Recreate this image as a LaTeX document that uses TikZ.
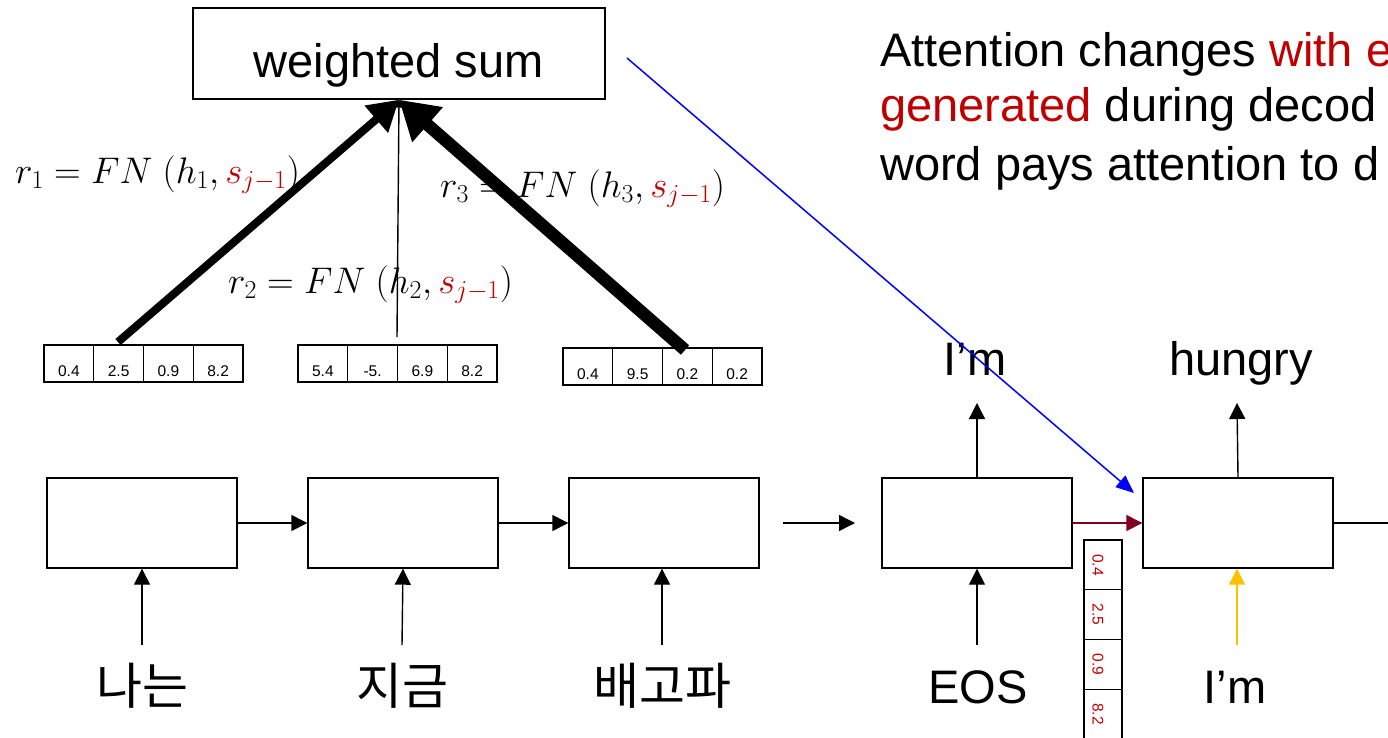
\documentclass[tikz,border=0pt]{standalone}
\usepackage{fix-cm}
\usepackage{fontspec}
\setmainfont{Liberation Sans}
\newfontfamily\kofont{Noto Sans CJK KR}
\usetikzlibrary{arrows.meta}
\definecolor{hot}{RGB}{192,0,0}
\definecolor{wine}{RGB}{128,0,32}
\definecolor{amber}{RGB}{255,192,0}
\begin{document}
\begin{tikzpicture}[x=1pt,y=-1pt,
  rnn/.style={draw,line width=1.4pt,minimum width=190pt,minimum height=90pt,inner sep=0pt},
  wbox/.style={draw,line width=1.4pt,minimum width=412pt,minimum height=91pt,inner sep=0pt},
  vcell/.style={draw,line width=1.2pt,minimum width=49.75pt,minimum height=37pt,inner sep=0pt},
  vnum/.style={font=\fontsize{15.5}{18}\selectfont,anchor=base,inner sep=0pt},
  word/.style={font=\fontsize{47}{56}\selectfont,inner sep=0pt},
  kword/.style={font=\fontsize{50}{60}\selectfont\kofont,inner sep=0pt,anchor=base},
  eq/.style={font=\fontsize{37}{44}\selectfont,inner sep=0pt,anchor=base west},
  conn/.style={line width=1.4pt,-{Triangle[length=16pt,width=16pt]}},
]
\useasboundingbox (0,0) rectangle (1388,738);
\clip (0,0) rectangle (1388,738);

% attention summary box
\node[wbox] (ws) at (399,53.5) {};
\node[word,anchor=base] (wst) at (398.5,78) {weighted sum};

% explanatory text
\node[word,anchor=base west] (t1) at (880,67) {Attention changes \textcolor{hot}{with e}};
\node[word,anchor=base west] (t2) at (880,122) {\textcolor{hot}{generated} during decod};
\node[word,anchor=base west] (t3) at (880,180) {word pays attention to d};

% encoder and decoder cells
\node[rnn] (e1) at (142,523) {};
\node[rnn] (e2) at (403,523) {};
\node[rnn] (e3) at (664,523) {};
\node[rnn] (d1) at (977,523) {};
\node[rnn] (d2) at (1238,523) {};

% recurrent links
\draw[conn] (e1) -- (e2);
\draw[conn] (e2) -- (e3);
\coordinate (gapL) at (783,523);
\coordinate (gapR) at (855,523);
\draw[conn] (gapL) -- (gapR);
\draw[conn,wine] (d1) -- (d2);
\coordinate (exit) at (1400,523);
\draw[line width=1.4pt] (d2) -- (exit);

% input words
\node[kword] (x1) at (142,704) {나는};
\node[kword] (x2) at (402,704) {지금};
\node[kword] (x3) at (662,704) {배고파};
\node[word,anchor=base] (x4) at (978,703) {EOS};
\node[word,anchor=base] (x5) at (1235,703) {I’m};

\coordinate (i1) at (142,645);
\coordinate (i2) at (402,645);
\coordinate (i3) at (662,645);
\coordinate (i4) at (977,645);
\coordinate (i5) at (1237,645);
\draw[conn] (i1) -- (e1.south);
\draw[conn] (i2) -- (e2.south);
\draw[conn] (i3) -- (i3 |- e3.south);
\draw[conn] (i4) -- (d1.south);
\draw[conn,amber] (i5) -- (i5 |- d2.south);

% output words
\node[word,anchor=base] (y1) at (975,375) {I’m};
\node[word,anchor=base] (y2) at (1241,375) {hungry};
\coordinate (o1) at (977,403);
\coordinate (o2) at (1237,403);
\draw[conn] (d1.north) -- (o1);
\draw[conn] (d2.north) -- (o2);

% encoder state vectors
\foreach \v [count=\i] in {0.4,2.5,0.9,8.2} {
  \node[vcell] (a\i) at ({44+49.75*(\i-0.5)},363.5) {};
  \node[vnum] at ({44+49.75*(\i-0.5)},376) {\v};
}
\foreach \v [count=\i] in {5.4,-5.,6.9,8.2} {
  \node[vcell] (b\i) at ({298+49.75*(\i-0.5)},363.5) {};
  \node[vnum] at ({298+49.75*(\i-0.5)},376) {\v};
}
\foreach \v [count=\i] in {0.4,9.5,0.2,0.2} {
  \node[vcell] (c\i) at ({563+49.75*(\i-0.5)},366.5) {};
  \node[vnum] at ({563+49.75*(\i-0.5)},379) {\v};
}

% context vector fed to the decoder
\foreach \v [count=\i] in {0.4,2.5,0.9,8.2} {
  \node[vcell,minimum width=38pt,minimum height=49.7pt] (k\i) at (1103,{540+49.7*(\i-0.5)}) {};
  \node[font=\fontsize{15.5}{18}\selectfont,text=hot,rotate=-90,inner sep=0pt] at (1098,{540+49.7*(\i-0.5)}) {\v};
}

% scores
\node[eq] (f1) at (15,183) {$r_1 = FN\;(h_1,\textcolor{hot}{s_{j-1}})$};
\node[eq] (f2) at (228,293) {$r_2 = FN\;(h_2,\textcolor{hot}{s_{j-1}})$};
\node[eq] (f3) at (440,197) {$r_3 = FN\;(h_3,\textcolor{hot}{s_{j-1}})$};

% weighted connections into the sum
\coordinate (p1) at (118,342);
\coordinate (p2) at (397,337);
\coordinate (p3) at (685,350);
\draw[line width=8pt,-{Triangle[length=30pt,width=34pt]}] (p1) -- (ws.south);
\draw[line width=1.4pt,-{Triangle[length=8pt,width=8pt]}] (p2) -- (ws.south);
\draw[line width=12.5pt,-{Triangle[length=38pt,width=44pt]}] (p3) -- (ws.south);

% summary passed to the next decoder step
\coordinate (bs) at (627,58);
\coordinate (be) at (1134,493);
\draw[blue,line width=1.5pt,-{Triangle[length=18pt,width=15pt]}] (bs) -- (be);
\end{tikzpicture}
\end{document}
